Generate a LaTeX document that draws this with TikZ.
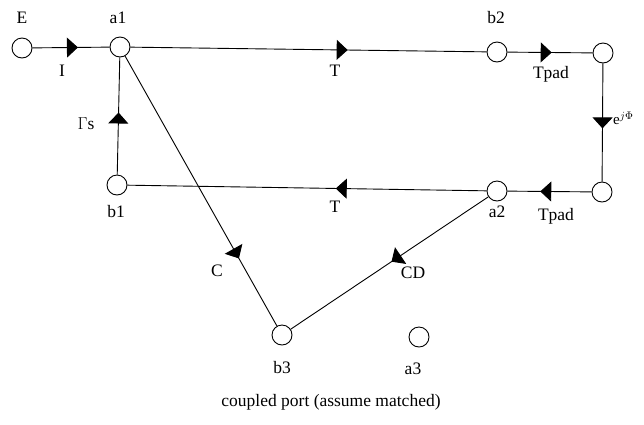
\documentclass[tikz,border=0pt]{standalone}
\usepackage{fontspec}
\setmainfont{Liberation Serif}
\usetikzlibrary{arrows.meta,decorations.markings}
\tikzset{
  port/.style={circle,draw,line width=0.9pt,minimum size=20pt,inner sep=0pt},
  lbl/.style={inner sep=0pt,font=\fontsize{17.5}{19}\selectfont},
  wire/.style={line width=0.9pt},
  flow/.style={wire,postaction={decorate},decoration={markings,
    mark=at position #1 with {\arrow{Triangle[length=11pt,width=20pt]}}}}
}
\begin{document}
\begin{tikzpicture}[x=1pt,y=-1pt]
\useasboundingbox (0,0) rectangle (644,424);
% ports
\node[port] (E)  at (22,48) {};
\node[port] (a1) at (120,47) {};
\node[port] (b2) at (497,52) {};
\node[port] (c1) at (603,53) {};
\node[port] (c2) at (602,192) {};
\node[port] (a2) at (497,191) {};
\node[port] (b1) at (117,185) {};
\node[port] (b3) at (282,335) {};
\node[port] (a3) at (419,337) {};
% connectors
\draw[flow=0.59] (E) -- (a1);
\draw[flow=0.61] (a1) -- (b2);
\draw[flow=0.52] (b2) -- (c1);
\draw[flow=0.55] (c1) -- (c2);
\draw[flow=0.61] (c2) -- (a2);
\draw[flow=0.42] (a2) -- (b1);
\draw[flow=0.53] (b1) -- (a1);
\draw[flow=0.75] (a1) -- (b3);
\draw[flow=0.49] (a2) -- (b3);
% labels
\node[lbl] (lE)  at (22,18) {E};
\node[lbl] (la1) at (118,18) {a1};
\node[lbl] (lb2) at (496,18) {b2};
\node[lbl] (lI)  at (62,71) {I};
\node[lbl] (lT1) at (335,71) {T};
\node[lbl] (lTp1) at (551,74) {Tpad};
\node[lbl,anchor=west,font=\fontsize{15}{17}\selectfont] (lphi) at (613,118) {e$^{j\Phi}$};
\node[lbl] (lGs) at (86,124) {$\Gamma$s};
\node[lbl] (lb1) at (116,212) {b1};
\node[lbl] (la2) at (497,212) {a2};
\node[lbl] (lT2) at (335,207) {T};
\node[lbl] (lTp2) at (556,216) {Tpad};
\node[lbl] (lC)  at (217,271) {C};
\node[lbl] (lCD) at (413,273) {CD};
\node[lbl] (lb3) at (282,368) {b3};
\node[lbl] (la3) at (413,369) {a3};
\node[lbl] (cap) at (331,402) {coupled port (assume matched)};
\end{tikzpicture}
\end{document}
